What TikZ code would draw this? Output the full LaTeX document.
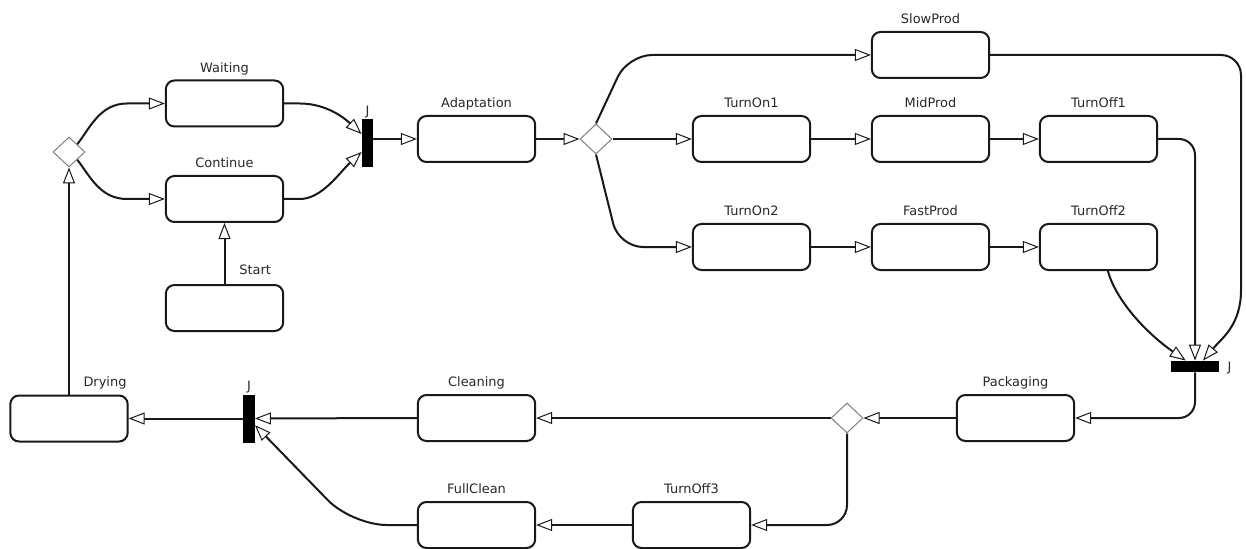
\documentclass[tikz,border=0pt]{standalone}
\usepackage{fontspec}
\setmainfont{DejaVu Sans}
\usetikzlibrary{arrows.meta,shapes.geometric}

\definecolor{linecol}{RGB}{25,25,25}
\definecolor{diacol}{RGB}{128,128,128}
\definecolor{txtcol}{RGB}{40,40,40}

\tikzset{
  state/.style={draw=linecol, line width=1.5pt, rounded corners=6.5pt,
    minimum width=88pt, minimum height=34.5pt, inner sep=0pt, fill=white},
  choice/.style={shape=diamond, draw=diacol, line width=0.75pt, fill=white,
    minimum width=24pt, minimum height=22.5pt, inner sep=0pt},
  vbar/.style={fill=black, inner sep=0pt, minimum width=8.5pt, minimum height=36pt},
  hbar/.style={fill=black, inner sep=0pt, minimum width=36pt, minimum height=8.5pt},
  lbl/.style={anchor=base, inner sep=0pt, text=txtcol,
    font=\fontsize{9.7}{11}\selectfont},
  flow/.style={draw=linecol, line width=1.5pt,
    -{Triangle[length=12pt,width=9pt,fill=white,line width'=0.75pt]}},
}

\begin{document}
\begin{tikzpicture}[x=0.75pt,y=-0.75pt]
\fill[white] (0,0) rectangle (1246,549);
\useasboundingbox (0,0) rectangle (1246,549);

% --- states ---
\node[state, label={[lbl,yshift=5.5pt]above:Waiting}]    (waiting)    at (224.5,103.5) {};
\node[state, label={[lbl,yshift=5.5pt]above:Continue}]   (continue)   at (224.5,199) {};
\node[state, label={[lbl,xshift=23pt,yshift=7.5pt]above:Start}] (start) at (224.5,308) {};
\node[state, label={[lbl,yshift=5.5pt]above:Adaptation}] (adaptation) at (476.5,139) {};
\node[state, label={[lbl,yshift=5.5pt]above:SlowProd}]   (slowprod)   at (930.5,55) {};
\node[state, label={[lbl,yshift=5.5pt]above:TurnOn1}]    (turnon1)    at (751.5,139) {};
\node[state, label={[lbl,yshift=5.5pt]above:MidProd}]    (midprod)    at (930.5,139) {};
\node[state, label={[lbl,yshift=5.5pt]above:TurnOff1}]   (turnoff1)   at (1098.5,139) {};
\node[state, label={[lbl,yshift=5.5pt]above:TurnOn2}]    (turnon2)    at (751.5,247) {};
\node[state, label={[lbl,yshift=5.5pt]above:FastProd}]   (fastprod)   at (930.5,247) {};
\node[state, label={[lbl,yshift=5.5pt]above:TurnOff2}]   (turnoff2)   at (1098.5,247) {};
\node[state, label={[lbl,yshift=5.5pt]above:Packaging}]  (packaging)  at (1015.5,418) {};
\node[state, label={[lbl,yshift=5.5pt]above:Cleaning}]   (cleaning)   at (476.5,418) {};
\node[state, label={[lbl,xshift=27pt,yshift=5.75pt]above:Drying}] (drying) at (69,418.5) {};
\node[state, label={[lbl,yshift=5.5pt]above:TurnOff3}]   (turnoff3)   at (691.5,525) {};
\node[state, label={[lbl,yshift=5.5pt]above:FullClean}]  (fullclean)  at (476.5,525) {};

% --- decisions ---
\node[choice] (d1) at (69,152) {};
\node[choice] (d2) at (596,139) {};
\node[choice] (d3) at (847,418) {};

% --- join bars ---
\node[vbar, label={[lbl,yshift=2.5pt]above:J}] (j1) at (367.5,143) {};
\node[hbar, label={[lbl,anchor=base west,xshift=6pt,yshift=-4.1pt]right:J}] (j2) at (1195,366.5) {};
\node[vbar, label={[lbl,yshift=2.5pt]above:J}] (j3) at (249,418.5) {};

% --- transitions ---
\draw[flow] (start.north) -- (continue.south);
\draw[flow] (drying.north) -- (d1.south);
\draw[flow] (d1.north east) .. controls (90,128) and (100,103.5) .. (127,103.5) -- (waiting.west);
\draw[flow] (d1.south east) .. controls (90,176) and (100,199) .. (127,199) -- (continue.west);
\draw[flow] (waiting.east) -- (300,103.5) .. controls (322,103.5) and (340,114) .. ([yshift=6.75pt]j1.west);
\draw[flow] (continue.east) -- (300,199) .. controls (322,199) and (340,172) .. ([yshift=-6.75pt]j1.west);
\draw[flow] (j1.east |- adaptation.west) -- (adaptation.west);
\draw[flow] (adaptation.east) -- (d2.west);
\draw[flow] (d2.east) -- (turnon1.west);
\draw[flow, rounded corners=18pt] (d2.north) -- (628,55) -- (slowprod.west);
\draw[flow, rounded corners=18pt] (d2.south) -- (619,247) -- (turnon2.west);
\draw[flow] (turnon1.east) -- (midprod.west);
\draw[flow] (midprod.east) -- (turnoff1.west);
\draw[flow] (turnon2.east) -- (fastprod.west);
\draw[flow] (fastprod.east) -- (turnoff2.west);
\draw[flow] (slowprod.east) -- (1221,55) .. controls (1232,55) and (1241,64) .. (1241,75)
  -- (1241,290) .. controls (1241,325) and (1222,338) .. ([xshift=6pt]j2.north);
\draw[flow, rounded corners=12pt] (turnoff1.east) -- (turnoff1.east -| j2.north) -- (j2.north);
\draw[flow] ([xshift=7pt]turnoff2.south) .. controls (1116,300) and (1145,332) .. ([xshift=-7pt]j2.north);
\draw[flow, rounded corners=12pt] (j2.south) -- (j2.south |- packaging.east) -- (packaging.east);
\draw[flow] (packaging.west) -- (d3.east);
\draw[flow] (d3.west) -- (cleaning.east);
\draw[flow, rounded corners=15pt] (d3.south) -- (d3.south |- turnoff3.east) -- (turnoff3.east);
\draw[flow] (turnoff3.west) -- (fullclean.east);
\draw[flow] (cleaning.west) -- (j3.east);
\draw[flow, rounded corners=26pt] (fullclean.west) -- (352,525) -- ([yshift=-5pt]j3.east);
\draw[flow] (j3.west) -- (drying.east);
\end{tikzpicture}
\end{document}
